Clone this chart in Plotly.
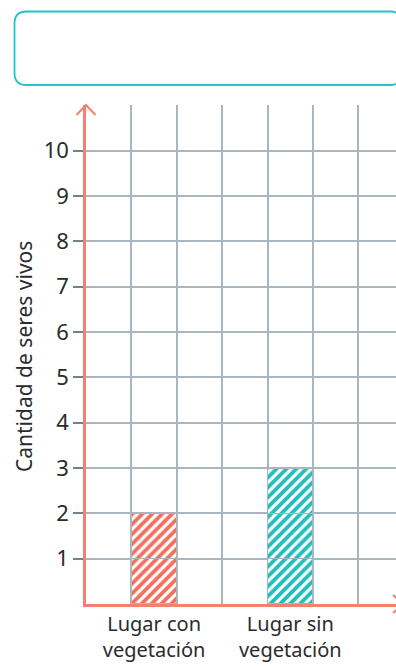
import plotly.graph_objects as go

# Data
categories = ["Lugar con<br>vegetación", "Lugar sin<br>vegetación"]
cat_positions = [1.5, 4.5]
values = [2, 3]
bar_colors = ["#F26F5E", "#22BDBD"]
y_ticks = list(range(1, 11))

# plot area in page pixels
L, T, W, H = 86, 105, 310, 499
GRID = "#AAB5BD"
AXIS_RED = "#F5806F"


def px(x):
    return (x - L) / W


def py(y):
    return 1 - (y - T) / H


fig = go.Figure()

# one stacked cell per unit so every square keeps its border
for level in range(max(values)):
    fig.add_trace(go.Bar(
        x=cat_positions,
        y=[1 if v > level else 0 for v in values],
        width=1,
        marker=dict(
            color="white",
            line=dict(color=GRID, width=1.2),
            pattern=dict(shape="/", fillmode="replace", bgcolor="white",
                         fgcolor=bar_colors, size=7, solidity=0.55),
        ),
        showlegend=False,
        hoverinfo="skip",
    ))

fig.update_layout(
    barmode="stack",
    width=396, height=667,
    margin=dict(l=L, r=0, t=T, b=667 - T - H),
    paper_bgcolor="white", plot_bgcolor="white",
    font=dict(family="Noto Sans", color="#2b2b2b"),
)

fig.update_xaxes(
    range=[0, W / 45.4],
    tickvals=cat_positions, ticktext=categories,
    tickfont=dict(size=20), ticks="",
    showgrid=False,
    minor=dict(dtick=1, tick0=0, showgrid=True, gridcolor=GRID, gridwidth=1.5, ticks=""),
    showline=True, linecolor=AXIS_RED, linewidth=2.5,
    zeroline=False, fixedrange=True,
)
fig.update_yaxes(
    range=[0, 11.01],
    tickvals=y_ticks, tickfont=dict(size=22),
    ticks="outside", ticklen=10, tickwidth=1.5, tickcolor="#74828C",
    showgrid=True, gridcolor=GRID, gridwidth=1.5,
    minor=dict(tickvals=[11], showgrid=True, gridcolor=GRID, gridwidth=1.5, ticks=""),
    showline=True, linecolor=AXIS_RED, linewidth=2.5,
    zeroline=False, fixedrange=True,
)

# y axis title
fig.add_annotation(
    text="Cantidad de seres vivos", textangle=-90,
    xref="paper", yref="paper", x=px(24), y=py(357),
    xanchor="center", yanchor="middle",
    showarrow=False, font=dict(size=21, color="#2b2b2b"),
)

# arrow heads on the axes
fig.add_shape(type="path", xref="paper", yref="paper",
              path=f"M {px(76.5)} {py(115)} L {px(86)} {py(105)} L {px(95.5)} {py(115)}",
              line=dict(color=AXIS_RED, width=2))
fig.add_shape(type="path", xref="paper", yref="paper",
              path=f"M {px(393)} {py(595)} L {px(403)} {py(604)} L {px(393)} {py(613)}",
              line=dict(color=AXIS_RED, width=2))

# empty rounded title box at the top
x0, x1, y0, y1, r = 14.5, 402, 11.5, 85, 12
box = (f"M {px(x0 + r)} {py(y0)} L {px(x1 - r)} {py(y0)} "
       f"Q {px(x1)} {py(y0)} {px(x1)} {py(y0 + r)} L {px(x1)} {py(y1 - r)} "
       f"Q {px(x1)} {py(y1)} {px(x1 - r)} {py(y1)} L {px(x0 + r)} {py(y1)} "
       f"Q {px(x0)} {py(y1)} {px(x0)} {py(y1 - r)} L {px(x0)} {py(y0 + r)} "
       f"Q {px(x0)} {py(y0)} {px(x0 + r)} {py(y0)} Z")
fig.add_shape(type="path", xref="paper", yref="paper", path=box,
              line=dict(color="#22C3CF", width=1.8))

# drop the default page margin so the figure fills the window
fig.write_html("out.html", config={"displayModeBar": False},
               post_script="document.body.style.margin='0';document.body.style.overflow='hidden';")
